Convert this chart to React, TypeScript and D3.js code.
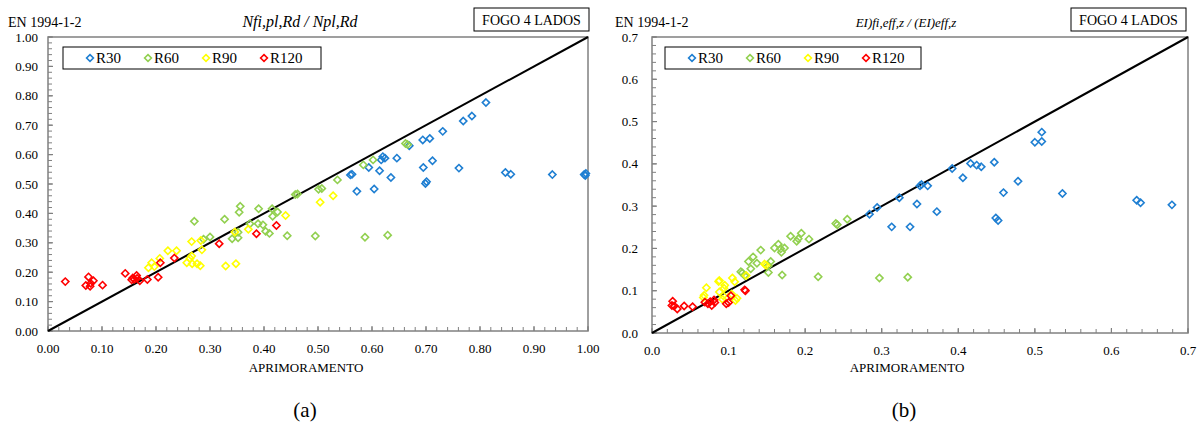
import React from "react";
import * as d3 from "d3";

type Pt = [number, number];

// ---- Data: chart (a) Nfi,pl,Rd / Npl,Rd ----
const aR30: Pt[] = [[0.811,0.777],[0.785,0.731],[0.769,0.714],[0.731,0.679],[0.707,0.655],[0.694,0.650],[0.669,0.630],[0.646,0.588],[0.624,0.588],[0.620,0.593],[0.617,0.582],[0.712,0.579],[0.695,0.556],[0.761,0.554],[0.594,0.556],[0.614,0.545],[0.563,0.533],[0.560,0.531],[0.635,0.522],[0.847,0.539],[0.857,0.533],[0.934,0.532],[0.993,0.532],[0.996,0.536],[0.995,0.529],[0.604,0.483],[0.572,0.475],[0.701,0.508],[0.699,0.502]];
const aR60: Pt[] = [[0.662,0.638],[0.666,0.634],[0.602,0.582],[0.584,0.565],[0.536,0.514],[0.507,0.485],[0.501,0.482],[0.462,0.466],[0.458,0.464],[0.495,0.323],[0.587,0.319],[0.629,0.326],[0.356,0.424],[0.354,0.404],[0.390,0.416],[0.415,0.416],[0.425,0.405],[0.416,0.390],[0.327,0.380],[0.271,0.373],[0.374,0.365],[0.389,0.365],[0.398,0.361],[0.403,0.339],[0.410,0.332],[0.443,0.324],[0.352,0.336],[0.341,0.314],[0.352,0.317],[0.300,0.320],[0.288,0.312]];
const aR90: Pt[] = [[0.504,0.438],[0.528,0.460],[0.440,0.393],[0.371,0.346],[0.346,0.337],[0.266,0.304],[0.283,0.308],[0.222,0.273],[0.238,0.273],[0.285,0.276],[0.207,0.247],[0.192,0.232],[0.186,0.215],[0.197,0.219],[0.266,0.255],[0.263,0.247],[0.257,0.232],[0.267,0.229],[0.276,0.229],[0.282,0.222],[0.329,0.221],[0.348,0.229]];
const aR120: Pt[] = [[0.032,0.168],[0.075,0.184],[0.084,0.171],[0.070,0.155],[0.078,0.152],[0.079,0.162],[0.101,0.156],[0.143,0.196],[0.157,0.180],[0.160,0.176],[0.164,0.189],[0.165,0.179],[0.155,0.174],[0.170,0.171],[0.184,0.175],[0.204,0.183],[0.208,0.232],[0.234,0.248],[0.317,0.297],[0.386,0.331],[0.423,0.359]];

// ---- Data: chart (b) EI)fi,eff,z / (EI)eff,z ----
const bR30: Pt[] = [[0.509,0.475],[0.500,0.451],[0.509,0.453],[0.447,0.404],[0.416,0.401],[0.424,0.397],[0.430,0.393],[0.392,0.389],[0.406,0.367],[0.478,0.359],[0.352,0.351],[0.350,0.348],[0.360,0.348],[0.459,0.332],[0.536,0.330],[0.633,0.314],[0.638,0.308],[0.679,0.303],[0.323,0.320],[0.294,0.297],[0.284,0.281],[0.346,0.305],[0.372,0.287],[0.313,0.251],[0.337,0.251],[0.449,0.272],[0.452,0.266]];
const bR60: Pt[] = [[0.255,0.269],[0.240,0.259],[0.242,0.256],[0.205,0.222],[0.195,0.236],[0.191,0.223],[0.189,0.217],[0.181,0.229],[0.173,0.201],[0.165,0.210],[0.160,0.201],[0.168,0.199],[0.169,0.191],[0.142,0.196],[0.132,0.180],[0.126,0.169],[0.137,0.165],[0.129,0.152],[0.155,0.169],[0.152,0.159],[0.152,0.143],[0.118,0.142],[0.116,0.145],[0.121,0.136],[0.170,0.137],[0.217,0.133],[0.297,0.130],[0.334,0.132]];
const bR90: Pt[] = [[0.147,0.163],[0.149,0.160],[0.123,0.136],[0.105,0.130],[0.108,0.121],[0.095,0.113],[0.088,0.124],[0.087,0.122],[0.071,0.107],[0.094,0.106],[0.088,0.097],[0.068,0.089],[0.067,0.084],[0.093,0.088],[0.092,0.080],[0.111,0.082],[0.109,0.077],[0.104,0.092]];
const bR120: Pt[] = [[0.027,0.075],[0.026,0.065],[0.029,0.064],[0.033,0.057],[0.042,0.064],[0.053,0.062],[0.069,0.073],[0.073,0.069],[0.076,0.074],[0.078,0.065],[0.081,0.078],[0.082,0.072],[0.097,0.069],[0.100,0.072],[0.103,0.088],[0.122,0.100],[0.121,0.102]];

const seriesNames = ["R30", "R60", "R90", "R120"];
const seriesColors = ["#1f7fd2", "#92d050", "#ffff00", "#ff0000"];
const xLabel = "APRIMORAMENTO";
const codeLabel = "EN 1994-1-2";
const boxLabel = "FOGO 4 LADOS";

const FONT = "'Liberation Serif', 'Times New Roman', serif";

interface PanelCfg {
  left: number; right: number; top: number; bottom: number;
  max: number; fmt: string; title: string; titleX: number; titleSize: number;
  series: Pt[][]; caption: string; captionX: number; axisTitleX: number;
  codeX: number; boxX: number; legendX: number; legendW: number; yLabelGap: number;
}

const diamond = (cx: number, cy: number, r: number) =>
  `M${cx},${cy - r}L${cx + r},${cy}L${cx},${cy + r}L${cx - r},${cy}Z`;

function Panel({ c }: { c: PanelCfg }) {
  const x = d3.scaleLinear().domain([0, c.max]).range([c.left, c.right]);
  const y = d3.scaleLinear().domain([0, c.max]).range([c.bottom, c.top]);
  const majors = d3.range(0, c.max + 1e-9, 0.1);
  const minors = d3.range(0, c.max + 1e-9, 0.02);
  const f = d3.format(c.fmt);
  const grey = "#808080";
  const line = d3.line<Pt>().x(d => x(d[0])).y(d => y(d[1]));
  return (
    <g>
      <text x={c.codeX} y={27} fontSize={14} fontFamily={FONT}>{codeLabel}</text>
      <text x={c.titleX} y={27} fontSize={c.titleSize} fontStyle="italic" textAnchor="middle" fontFamily={FONT}>{c.title}</text>
      <rect x={c.boxX} y={8} width={115} height={23} fill="none" stroke="#000" strokeWidth={1} />
      <text x={c.boxX + 57.5} y={25} fontSize={14} textAnchor="middle" fontFamily={FONT}>{boxLabel}</text>
      {/* frame */}
      <rect x={c.left} y={c.top} width={c.right - c.left} height={c.bottom - c.top} fill="none" stroke={grey} strokeWidth={1.5} />
      {minors.map((t, i) => (
        <g key={"m" + i}>
          <line x1={x(t)} x2={x(t)} y1={c.bottom} y2={c.bottom - 4} stroke={grey} strokeWidth={1} />
          <line x1={c.left} x2={c.left + 4} y1={y(t)} y2={y(t)} stroke={grey} strokeWidth={1} />
        </g>
      ))}
      {majors.map((t, i) => (
        <g key={"M" + i}>
          <line x1={x(t)} x2={x(t)} y1={c.bottom} y2={c.bottom - 5} stroke={grey} strokeWidth={1.2} />
          <line x1={c.left} x2={c.left + 5} y1={y(t)} y2={y(t)} stroke={grey} strokeWidth={1.2} />
          <text x={x(t)} y={c.bottom + 22} fontSize={13} textAnchor="middle" fontFamily={FONT}>{f(t)}</text>
          <text x={c.left - c.yLabelGap} y={y(t) + 4.5} fontSize={13} textAnchor="end" fontFamily={FONT}>{f(t)}</text>
        </g>
      ))}
      {/* diagonal */}
      <path d={line([[0, 0], [c.max, c.max]]) || ""} stroke="#000" strokeWidth={2} fill="none" />
      {c.series.map((s, si) => (
        <g key={"s" + si}>
          {s.map((p, pi) => (
            <path key={pi} d={diamond(x(p[0]), y(p[1]), 3.6)} fill="none" stroke={seriesColors[si]} strokeWidth={1.6} />
          ))}
        </g>
      ))}
      {/* legend */}
      <rect x={c.legendX} y={47} width={c.legendW} height={22} fill="#fff" stroke="#000" strokeWidth={1} />
      {seriesNames.map((n, i) => {
        const lx = c.legendX + 27 + i * 58;
        return (
          <g key={"l" + i}>
            <path d={diamond(lx, 58, 3.4)} fill="none" stroke={seriesColors[i]} strokeWidth={1.6} />
            <text x={lx + 6} y={63} fontSize={15} fontFamily={FONT}>{n}</text>
          </g>
        );
      })}
      <text x={c.axisTitleX} y={372} fontSize={13} textAnchor="middle" fontFamily={FONT}>{xLabel}</text>
      <text x={c.captionX} y={417} fontSize={21} textAnchor="middle" fontFamily={FONT}>{c.caption}</text>
    </g>
  );
}

const panels: PanelCfg[] = [
  { left: 48, right: 588, top: 37, bottom: 331, max: 1.0, fmt: ".2f", title: "Nfi,pl,Rd / Npl,Rd", titleX: 300, titleSize: 16,
    series: [aR30, aR60, aR90, aR120], caption: "(a)", captionX: 305, axisTitleX: 306, codeX: 8, boxX: 474, legendX: 63, legendW: 258, yLabelGap: 10 },
  { left: 652, right: 1188, top: 37, bottom: 333, max: 0.7, fmt: ".1f", title: "EI)fi,eff,z / (EI)eff,z", titleX: 906, titleSize: 13,
    series: [bR30, bR60, bR90, bR120], caption: "(b)", captionX: 904, axisTitleX: 907, codeX: 615, boxX: 1071, legendX: 665, legendW: 256, yLabelGap: 14 },
];

export default function App() {
  return (
    <svg width={1203} height={427} style={{ position: "absolute", left: 0, top: 0, background: "#fff" }}>
      <rect width={1203} height={427} fill="#fff" />
      {panels.map((p, i) => <Panel key={i} c={p} />)}
    </svg>
  );
}
